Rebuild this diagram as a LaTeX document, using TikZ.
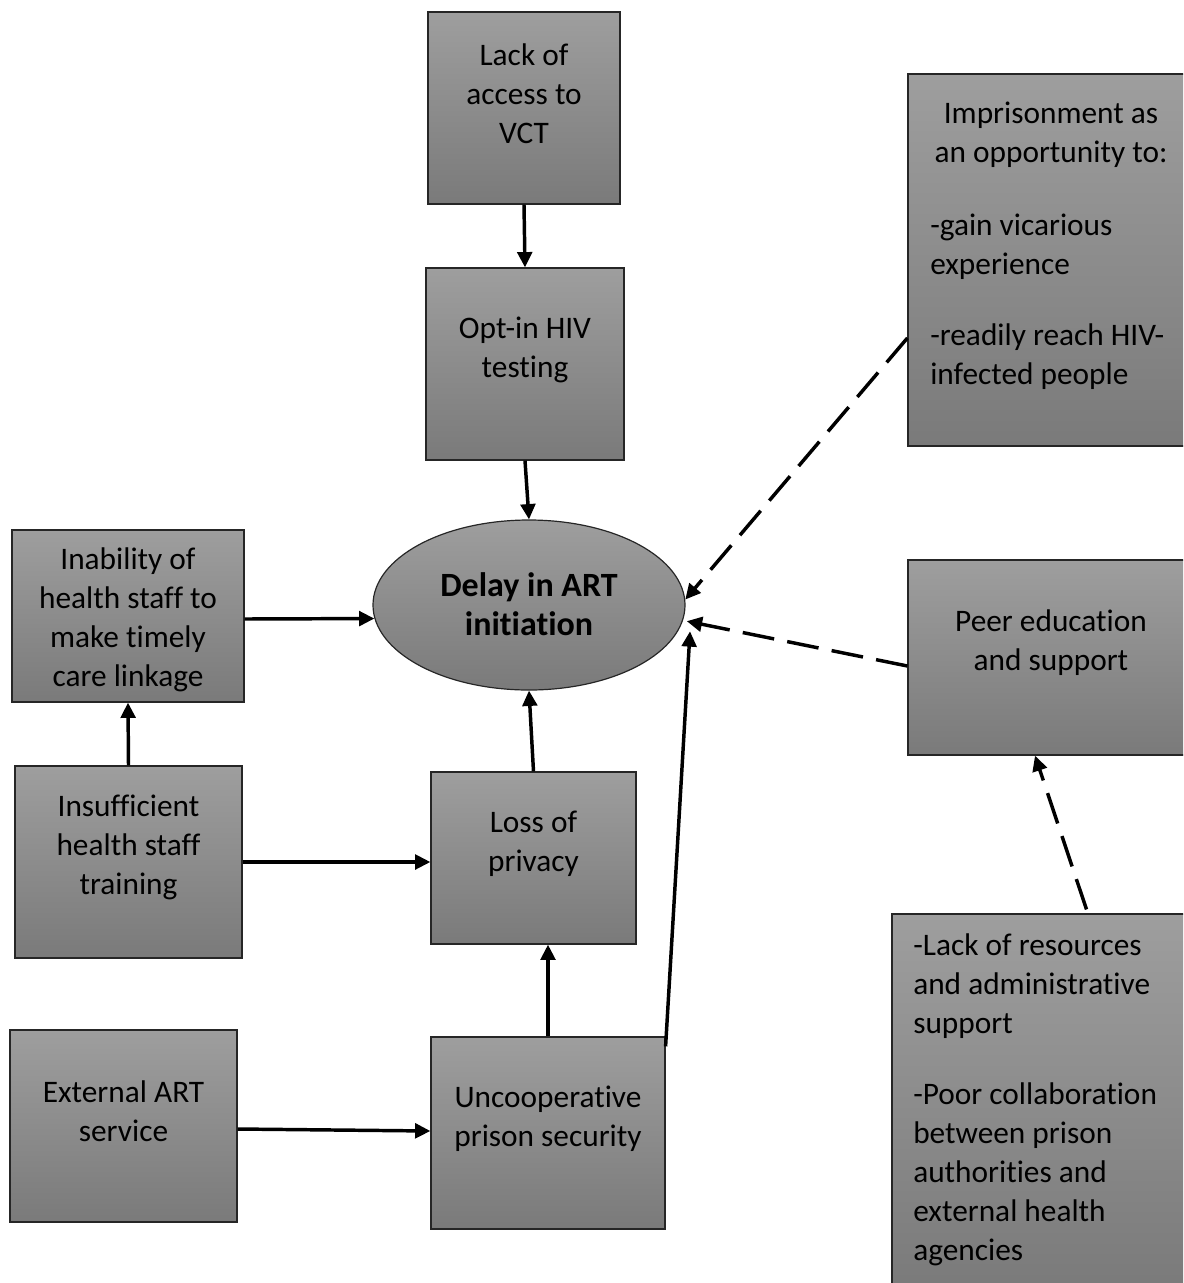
\documentclass[tikz,border=0pt]{standalone}
\usepackage{fontspec}
\setmainfont{Carlito}[RawFeature={-liga;-clig;-calt;-dlig;-rlig}]
\usetikzlibrary{arrows.meta,calc,shapes.geometric}
\definecolor{boxtop}{RGB}{158,158,158}
\definecolor{boxbot}{RGB}{122,122,122}
\tikzset{
  gbox/.style={rectangle, draw=black!85, line width=0.9pt, top color=boxtop, bottom color=boxbot, inner sep=0pt},
  gell/.style={ellipse, draw=black!85, line width=0.9pt, top color=boxtop, bottom color=boxbot, inner sep=0pt},
  txt/.style={font=\fontsize{23.5pt}{29.25pt}\selectfont, text=black, inner sep=0pt},
  conn/.style={line width=2.6pt, -{Triangle[length=11.5pt,width=11pt]}},
  dconn/.style={conn, dash pattern=on 24pt off 10pt},
}
\begin{document}
\begin{tikzpicture}[x=0.75pt,y=-0.75pt]
\useasboundingbox (0,0) rectangle (1183,1283);
\clip (0,0) rectangle (1183,1283);
% boxes
\node[gbox, minimum width=144pt, minimum height=144pt] (vct) at (524,108) {};
\node[gbox, minimum width=148.5pt, minimum height=144pt] (opt) at (525,364) {};
\node[gell, minimum width=234pt, minimum height=127.5pt] (ell) at (529,605) {};
\node[gbox, minimum width=174pt, minimum height=129pt] (inab) at (128,616) {};
\node[gbox, minimum width=170.25pt, minimum height=144pt] (insuf) at (128.5,862) {};
\node[gbox, minimum width=153.75pt, minimum height=129pt] (loss) at (533.5,858) {};
\node[gbox, minimum width=170.25pt, minimum height=144pt] (ext) at (123.5,1126) {};
\node[gbox, minimum width=175.5pt, minimum height=144pt] (unc) at (548,1133) {};
\node[gbox, minimum width=215.25pt, minimum height=279pt] (imp) at (1051.5,260) {};
\node[gbox, minimum width=215.25pt, minimum height=146.25pt] (peer) at (1051.5,657.5) {};
\node[gbox, minimum width=227.25pt, minimum height=282pt] (bot) at (1043.5,1102) {};
% texts
\node[txt, align=center] (t-vct) at (524,94) {Lack of\\access to\\VCT};
\node[txt, align=center] (t-opt) at (525,350) {Opt-in HIV\\testing};
\node[txt, align=center, font=\fontsize{25.5pt}{29.25pt}\selectfont\bfseries] (t-ell) at (529,604) {Delay in ART\\initiation};
\node[txt, align=center] (t-inab) at (128,620) {Inability of\\health staff to\\make timely\\care linkage};
\node[txt, align=center] (t-insuf) at (128.5,847) {Insufficient\\health staff\\training};
\node[txt, align=center] (t-loss) at (533.5,844) {Loss of\\privacy};
\node[txt, align=center] (t-ext) at (123.5,1111) {External ART\\service};
\node[txt, align=center] (t-unc) at (548,1119) {Uncooperative\\prison security};
\node[txt, align=center] (t-imp1) at (1051,135) {Imprisonment as\\an opportunity to:};
\node[txt, align=left, anchor=west] (t-imp2) at (930,247) {-gain vicarious\\experience};
\node[txt, align=left, anchor=west] (t-imp3) at (930,357) {-readily reach HIV-\\infected people};
\node[txt, align=center] (t-peer) at (1051,643) {Peer education\\and support};
\node[txt, align=left, anchor=west] (t-bot1) at (913,986) {-Lack of resources\\and administrative\\support};
\node[txt, align=left, anchor=west] (t-bot2) at (913,1174) {-Poor collaboration\\between prison\\authorities and\\external health\\agencies};
% connectors
\draw[conn] (vct.south) -- (opt.north);
\draw[conn] (opt.south) -- (ell.north);
\draw[conn] ($(inab.east)+(0,3)$) -- (ell.185);
\draw[conn] (insuf.north) -- (inab.south);
\draw[conn] (insuf.east) -- (insuf.east -| loss.west);
\draw[conn] (loss.north) -- (ell.south);
\draw[conn] (unc.north) -- (unc.north |- loss.south);
\draw[conn] ($(ext.east)+(0,3)$) -- ($(unc.west)+(0,-2)$);
\draw[conn] ($(unc.north east)+(0,10)$) -- ($(ell.-10)+(12,0)$);
\draw[dconn] ($(imp.west)+(0,78)$) -- (ell.2);
\draw[dconn] ($(peer.west)+(0,8.5)$) -- ($(ell.-6)+(4,0)$);
\draw[dconn] ($(bot.north)+(43,-4)$) -- ($(peer.south)+(-16.5,0)$);
\end{tikzpicture}
\end{document}
